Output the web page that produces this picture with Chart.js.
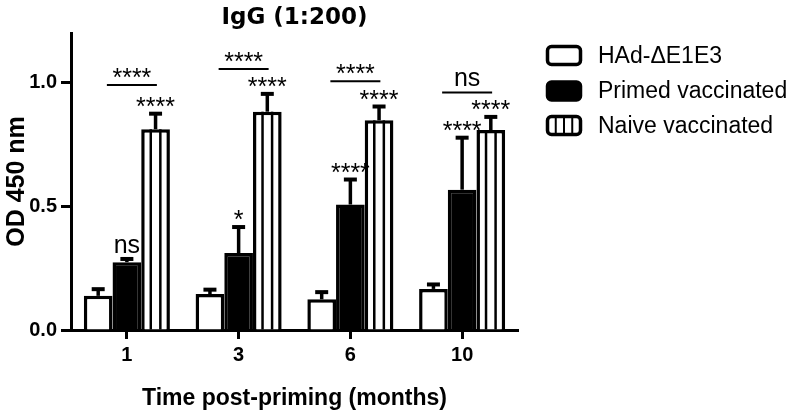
<!DOCTYPE html>
<html>
<head>
<meta charset="utf-8">
<script src="https://cdn.jsdelivr.net/npm/chart.js@4.4.1/dist/chart.umd.min.js"></script>
<style>
html,body{margin:0;padding:0;background:#fff}
#wrap{width:800px;height:412px}
</style>
</head>
<body>
<div id="wrap"><canvas id="myChart"></canvas></div>
<script>
// values (OD 450 nm, mean + upper error)
var months = ['1','3','6','10']
var hadMean = [0.138,0.145,0.124,0.166]
var hadErr = [0.027,0.018,0.029,0.018]
var primedMean = [0.274,0.311,0.507,0.567]
var primedErr = [0.013,0.105,0.101,0.210]
var naiveMean = [0.811,0.882,0.847,0.808]
var naiveErr = [0.063,0.072,0.056,0.053]
var sigPrimed = ['ns','*','****','****']
var sigNaive = ['****','****','****','****']
var sigPair = ['****','****','****','ns']
var pairLevel = [0.99,1.055,1.005,0.96]
var yTicks = [0,0.5,1.0]
var legendNames = ['HAd-\u0394E1E3','Primed vaccinated','Naive vaccinated']

var FONT = '"Liberation Sans", Arial, sans-serif'

function sigText(ctx,txt,x,yPx){
    // asterisks sit high in the em box, words need a bit more room
    var b = txt.charAt(0)=='*' ? yPx+1 : yPx-6
    ctx.fillText(txt,x,b)
}

var errorBars = {
    id:'errorBars',
    afterDatasetsDraw(chart){
        var ctx=chart.ctx, yS=chart.scales.y, xS=chart.scales.x
        var errs=[hadErr,primedErr,naiveErr]
        ctx.save()
        ctx.strokeStyle='#000'
        ctx.fillStyle='#000'
        chart.data.datasets.forEach(function(ds,d){
            var meta=chart.getDatasetMeta(d)
            meta.data.forEach(function(bar,i){
                if(d==2){
                    // vertical stripes of the naive bars
                    ctx.lineWidth=2.5
                    var left=bar.x-bar.width/2
                    for(var k=1;k<3;k++){
                        var sx=left+bar.width*k/3
                        ctx.beginPath(); ctx.moveTo(sx,bar.y); ctx.lineTo(sx,bar.base); ctx.stroke()
                    }
                }
                var top=yS.getPixelForValue(ds.data[i]+errs[d][i])
                ctx.lineWidth=3.5
                ctx.beginPath(); ctx.moveTo(bar.x,bar.y); ctx.lineTo(bar.x,top); ctx.stroke()
                ctx.lineWidth=4
                ctx.beginPath(); ctx.moveTo(bar.x-6.5,top); ctx.lineTo(bar.x+6.5,top); ctx.stroke()
            })
        })
        // significance marks
        ctx.font='25px '+FONT
        ctx.textAlign='center'
        ctx.textBaseline='alphabetic'
        var pm=chart.getDatasetMeta(1), nm=chart.getDatasetMeta(2)
        for(var i=0;i<months.length;i++){
            var pb=pm.data[i], nb=nm.data[i]
            sigText(ctx,sigPrimed[i],pb.x,yS.getPixelForValue(primedMean[i]+primedErr[i]))
            sigText(ctx,sigNaive[i],nb.x,yS.getPixelForValue(naiveMean[i]+naiveErr[i]))
            var gx=xS.getPixelForValue(i)
            var ly=yS.getPixelForValue(pairLevel[i])
            ctx.lineWidth=2
            ctx.beginPath(); ctx.moveTo(gx-20,ly); ctx.lineTo(gx+30,ly); ctx.stroke()
            sigText(ctx,sigPair[i],gx+5,ly)
        }
        ctx.restore()
    },
    afterDraw(chart){
        var ctx=chart.ctx, area=chart.chartArea
        ctx.save()
        ctx.fillStyle='#000'
        ctx.strokeStyle='#000'
        // title
        ctx.font='bold 23px "DejaVu Sans", sans-serif'
        ctx.textAlign='center'
        ctx.textBaseline='alphabetic'
        ctx.fillText('IgG (1:200)',(area.left+area.right)/2,24)
        // legend
        ctx.font='23px '+FONT
        ctx.textAlign='left'
        ctx.textBaseline='middle'
        var rows=[55.5,91,125.5]
        chart.data.datasets.forEach(function(ds,d){
            var bx=547.5, by=rows[d]-9, bw=33, bh=18
            ctx.lineWidth=3.5
            ctx.beginPath()
            ctx.roundRect(bx,by,bw,bh,4)
            ctx.fillStyle=ds.backgroundColor
            ctx.fill()
            ctx.stroke()
            if(d==2){
                ctx.lineWidth=2
                for(var k=1;k<4;k++){
                    ctx.beginPath(); ctx.moveTo(bx+bw*k/4,by); ctx.lineTo(bx+bw*k/4,by+bh); ctx.stroke()
                }
            }
            ctx.fillStyle='#000'
            ctx.fillText(legendNames[d],598,rows[d]+1)
        })
        ctx.restore()
    }
}

function $id(id){ return document.getElementById(id) }
const ctx = $id('myChart').getContext('2d')

var myChart = new Chart(ctx,{
    type:'bar',
    data:{
        labels:months,
        datasets:[
            {label:legendNames[0],data:hadMean,backgroundColor:'#fff',borderColor:'#000',borderWidth:3.5},
            {label:legendNames[1],data:primedMean,backgroundColor:'#000',borderColor:'#000',borderWidth:3.5},
            {label:legendNames[2],data:naiveMean,backgroundColor:'#fff',borderColor:'#000',borderWidth:3.5}
        ]
    },
    options:{
        responsive:true,
        maintainAspectRatio:false,
        animation:false,
        layout:{padding:{top:33,right:282,left:0,bottom:0}},
        datasets:{bar:{barPercentage:1,categoryPercentage:0.77}},
        plugins:{legend:{display:false},title:{display:false},tooltip:{enabled:false}},
        scales:{
            x:{
                grid:{display:true,drawOnChartArea:false,offset:false,color:'#000',tickLength:9,tickWidth:3},
                border:{display:true,color:'#000',width:3},
                ticks:{color:'#000',padding:4,font:{family:FONT,size:20,weight:'bold'}},
                title:{display:true,text:'Time post-priming (months)',color:'#000',padding:{top:0,bottom:0},font:{family:FONT,size:23,weight:'bold'}},
                afterFit(s){ s.height=82 }
            },
            y:{
                min:0,
                max:1.2,
                afterBuildTicks(s){ s.ticks=yTicks.map(function(v){return {value:v}}) },
                grid:{display:true,drawOnChartArea:false,color:'#000',tickLength:10,tickWidth:3},
                border:{display:true,color:'#000',width:3},
                ticks:{color:'#000',padding:4,font:{family:FONT,size:20,weight:'bold'},callback:function(v){return Number(v).toFixed(1)}},
                title:{display:true,text:'OD 450 nm',color:'#000',padding:{top:2,bottom:0},font:{family:FONT,size:25,weight:'bold'}},
                afterFit(s){ s.width=71 }
            }
        }
    },
    plugins:[errorBars]
})
</script>
</body>
</html>
